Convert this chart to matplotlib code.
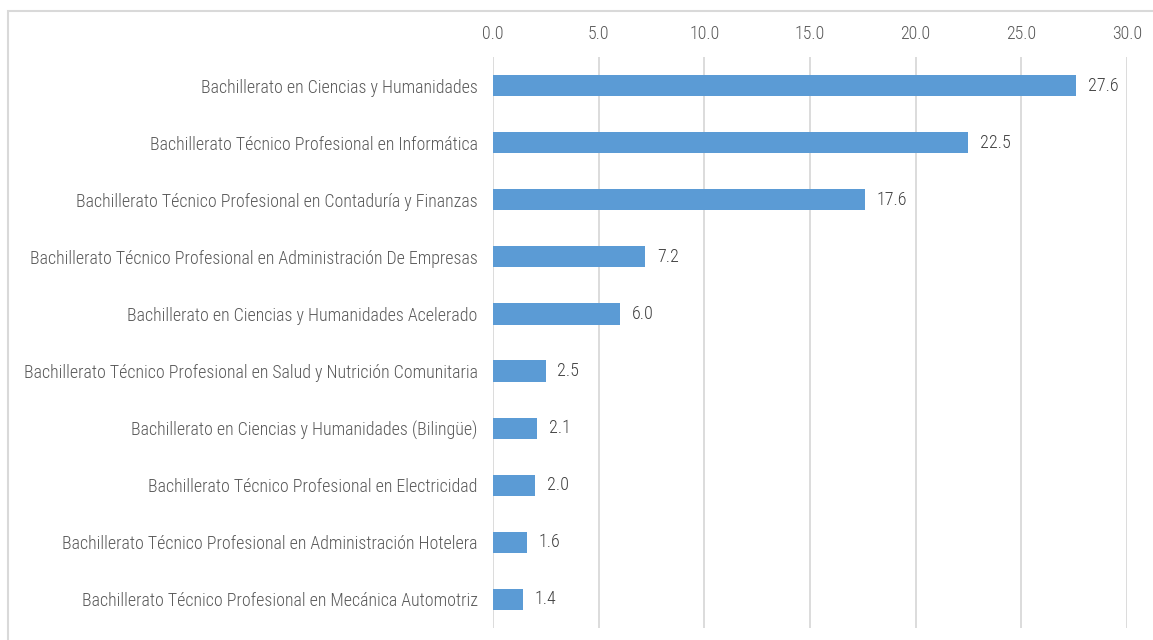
import matplotlib.pyplot as plt
from matplotlib.patches import Rectangle

# Matrícula por bachillerato (%)
programas = [
    "Bachillerato en Ciencias y Humanidades",
    "Bachillerato Técnico Profesional en Informática",
    "Bachillerato Técnico Profesional en Contaduría y Finanzas",
    "Bachillerato Técnico Profesional en Administración De Empresas",
    "Bachillerato en Ciencias y Humanidades Acelerado",
    "Bachillerato Técnico Profesional en Salud y Nutrición Comunitaria",
    "Bachillerato en Ciencias y Humanidades (Bilingüe)",
    "Bachillerato Técnico Profesional en Electricidad",
    "Bachillerato Técnico Profesional en Administración Hotelera",
    "Bachillerato Técnico Profesional en Mecánica Automotriz",
]
porcentajes = [27.6, 22.5, 17.6, 7.2, 6.0, 2.5, 2.1, 2.0, 1.6, 1.4]
ticks_x = [0, 5, 10, 15, 20, 25, 30]

plt.rcParams['font.family'] = ['Roboto Condensed', 'DejaVu Sans']
plt.rcParams['font.weight'] = 'light'
gris_texto = '#595959'
gris_linea = '#D9D9D9'

fig = plt.figure(figsize=(11.53, 6.4), dpi=100)
ax = fig.add_axes([0.4276, 0.01875, 0.5498, 0.8922])

y = list(range(len(programas)))
ax.barh(y, porcentajes, height=0.37, color='#5B9BD5', zorder=3)
for yi, v in zip(y, porcentajes):
    ax.text(v + 0.55, yi, f"{v:.1f}", va='center', ha='left',
            fontsize=13, color='#404040')

ax.set_ylim(len(programas) - 0.5, -0.5)
ax.set_xlim(0, 30)
ax.set_yticks(y)
ax.set_yticklabels(programas, fontsize=12.9, color=gris_texto)
ax.set_xticks(ticks_x)
ax.set_xticklabels([f"{t:.1f}" for t in ticks_x], fontsize=12.9, color=gris_texto)
ax.xaxis.tick_top()
ax.tick_params(length=0, pad=10)
ax.tick_params(axis='y', pad=11)
ax.grid(axis='x', color=gris_linea, linewidth=1.3, zorder=0)
for s in ax.spines.values():
    s.set_visible(False)

# marco exterior del gráfico
fig.patches.append(Rectangle((8 / 1153, -0.05), 1.1, 1 - 11 / 640 + 0.05,
                             transform=fig.transFigure, fill=False,
                             edgecolor=gris_linea, linewidth=1.5))

fig.savefig('out.png', dpi=100)
